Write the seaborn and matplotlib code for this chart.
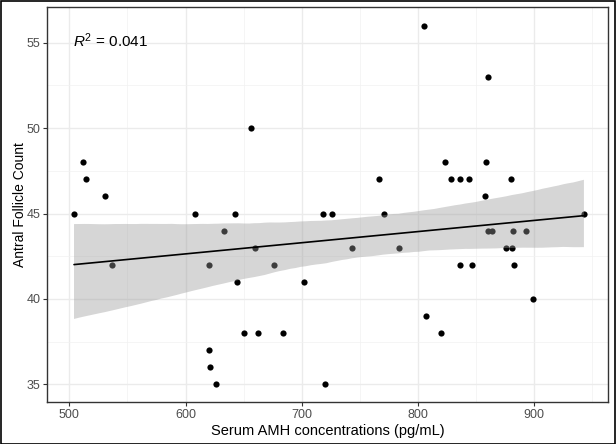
import matplotlib
matplotlib.use("Agg")
import matplotlib.pyplot as plt
import seaborn as sns
import pandas as pd
from matplotlib.ticker import MultipleLocator
from matplotlib.patches import Rectangle

amh = [504, 512, 514, 531, 537, 608, 620, 620, 621, 626, 633, 643, 644, 650, 656,
       660, 662, 676, 684, 702, 718, 720, 726, 743, 767, 771, 784, 805, 807, 820,
       823, 829, 836, 836, 844, 847, 858, 859, 860, 860, 864, 876, 880, 881, 882,
       883, 893, 899, 943]
afc = [45, 48, 47, 46, 42, 45, 42, 37, 36, 35, 44, 45, 41, 38, 50,
       43, 38, 42, 38, 41, 45, 35, 45, 43, 47, 45, 43, 56, 39, 38,
       48, 47, 47, 42, 47, 42, 46, 48, 53, 44, 44, 43, 47, 43, 44,
       42, 44, 40, 45]
x_ticks = [500, 600, 700, 800, 900]
y_ticks = [35, 40, 45, 50, 55]
annot = r"$R^2$ = 0.041"
x_title = "Serum AMH concentrations (pg/mL)"
y_title = "Antral Follicle Count"

df = pd.DataFrame({"amh": amh, "afc": afc})

sns.set_theme(style="white")
plt.rcParams['font.family'] = ['Liberation Sans', 'DejaVu Sans']
plt.rcParams['mathtext.fontset'] = 'custom'
plt.rcParams['mathtext.it'] = 'Liberation Sans:italic'
plt.rcParams['mathtext.rm'] = 'Liberation Sans'

fig = plt.figure(figsize=(6.16, 4.44), dpi=100)
ax = fig.add_axes([47.3 / 616, 1 - 402.3 / 444, (608.3 - 47.3) / 616, (402.3 - 7.3) / 444])

sns.regplot(data=df, x="amh", y="afc", ax=ax, ci=95, n_boot=2000, seed=3,
            color="black",
            scatter_kws=dict(s=20, linewidths=0, alpha=1),
            line_kws=dict(lw=1.2, color="black"))
for c in ax.collections[1:]:
    c.set_facecolor("#999999")
    c.set_alpha(0.4)
    c.set_edgecolor("none")

ax.set_xlim(481, 964)
ax.set_ylim(33.95, 57.07)
ax.set_xticks(x_ticks)
ax.set_yticks(y_ticks)
ax.xaxis.set_minor_locator(MultipleLocator(50))
ax.yaxis.set_minor_locator(MultipleLocator(2.5))
ax.grid(True, which="major", color="#EBEBEB", lw=1.0)
ax.grid(True, which="minor", color="#F2F2F2", lw=0.5)
ax.set_axisbelow(True)
ax.tick_params(axis="both", which="major", length=3, width=0.8, color="#333333",
               labelsize=9, labelcolor="#4D4D4D", pad=2, bottom=True, left=True)
ax.tick_params(axis="both", which="minor", length=0)
for s in ax.spines.values():
    s.set_color("#333333")
    s.set_linewidth(1.0)

ax.set_xlabel(x_title, fontsize=10.5, color="black", labelpad=2)
ax.set_ylabel(y_title, fontsize=10, color="black")
ax.yaxis.set_label_coords(-0.037, 0.5)

ax.text(0.045, 0.915, annot, transform=ax.transAxes, fontsize=11, color="black",
        ha="left", va="center")

fig.patches.append(Rectangle((0.5 / 616, 0.5 / 444), 1 - 1.5 / 616, 1 - 1.5 / 444,
                             transform=fig.transFigure, fill=False,
                             edgecolor="black", lw=1.2))

fig.savefig("out.png", dpi=100)
